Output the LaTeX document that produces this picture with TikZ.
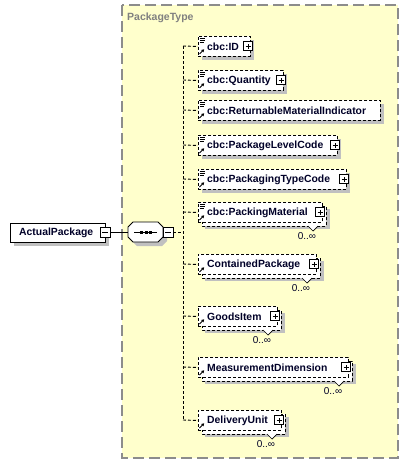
\documentclass[tikz,border=0pt]{standalone}
\usepackage{fontspec}
\setmainfont{Liberation Sans}
\usetikzlibrary{arrows.meta}
\definecolor{panel}{RGB}{255,255,204}
\definecolor{panelline}{RGB}{140,140,140}
\definecolor{shad}{RGB}{192,192,192}
\definecolor{ink}{RGB}{0,0,40}
\definecolor{titleg}{RGB}{128,128,128}
\tikzset{
  conn/.style={line width=0.9pt, dash pattern=on 3pt off 2pt},
  ebox/.style={draw, fill=white, line width=0.9pt, dash pattern=on 3pt off 2pt, rectangle, inner sep=0pt, anchor=north west, minimum height=20pt},
  backbox/.style={draw, fill=white, line width=0.9pt, dash pattern=on 3pt off 2pt},
  lbl/.style={font=\fontsize{10.4}{12}\selectfont\bfseries, text=ink, anchor=west, inner sep=0pt},
  mult/.style={font=\fontsize{10}{12}\selectfont, text=ink, inner sep=0pt},
  btn/.style={draw, fill=white, line width=0.7pt, minimum size=9pt, inner sep=0pt},
  icon/.style={line width=0.6pt},
}
\newcommand\plusbtn[3]{% name, x, y
  \node[btn] (#1) at (#2,#3) {};
  \draw[line width=0.7pt] ([xshift=-2.5pt]#1.center) -- ([xshift=2.5pt]#1.center)
    ([yshift=-2.5pt]#1.center) -- ([yshift=2.5pt]#1.center);}
% #1 name, #2 top, #3 right, #4 text, #5 cbc icon, #6 plus, #7 multi
\newcommand\xelem[7]{%
  \ifnum#7=1
    \fill[shad] (205,{#2+7}) rectangle ({#3+8},{#2+27});
    \draw[backbox] (202,{#2+4}) rectangle ({#3+4},{#2+24});
  \else
    \fill[shad] (202,{#2+4}) rectangle ({#3+4},{#2+24});
  \fi
  \node[ebox, minimum width={(#3-198)*1pt}] (#1) at (198,#2) {};
  \coordinate (#1-j) at (183,{#2+10});
  \draw[conn] (#1-j) -- (#1.west);
  \node[lbl] (#1-t) at (207,{#2+10.5}) {#4};
  \ifnum#5=1
    \draw[icon] (199.5,{#2+2.5}) -- (204.5,{#2+2.5})
      (199.5,{#2+4.5}) -- (204.5,{#2+4.5})
      (199.5,{#2+6.5}) -- (203.5,{#2+6.5});
  \fi
  \draw[line width=0.9pt, -{Triangle[length=2.6pt,width=3pt]}] (199.5,{#2+18}) -- (204.2,{#2+13.3});
  \ifnum#6=1
    \plusbtn{#1-p}{{#3-2}}{{#2+10}}
  \fi
  \ifnum#7=1
    \draw[line width=0.7pt, fill=white] ({#3-14},{#2+24}) -- ({#3-9},{#2+29}) -- ({#3-4},{#2+24});
    \node[mult] (#1-m) at ({#3-15},{#2+34}) {0..∞};
  \fi
}
\begin{document}
\begin{tikzpicture}[x=1pt,y=-1pt]
\useasboundingbox (0,0) rectangle (408,466);
% panel
\draw[panelline, fill=panel, line width=1.2pt, dash pattern=on 11pt off 5pt] (122,5) rectangle (398,458);
\node[font=\fontsize{10.5}{12}\selectfont\bfseries, text=titleg, anchor=west, inner sep=0pt] (ptype) at (127,18) {PackageType};
% root element
\fill[shad] (14,227) rectangle (109,246);
\node[draw, fill=white, line width=0.9pt, inner sep=0pt, anchor=north west, minimum width=95pt, minimum height=19pt] (root) at (10,223) {};
\node[lbl] (root-t) at (19,233) {ActualPackage};
\node[btn, minimum size=10pt] (rootm) at (105,232) {};
\draw[line width=0.7pt] ([xshift=-3pt]rootm.center) -- ([xshift=3pt]rootm.center);
% sequence
\fill[shad] (137,226) -- (162,226) -- (167,231) -- (167,241) -- (162,246) -- (137,246) -- (132,241) -- (132,231) -- cycle;
\node[inner sep=0pt, minimum width=35pt, minimum height=20pt] (seq) at (145.5,232) {};
\draw[fill=white, line width=0.9pt] (133,222) -- (158,222) -- (163,227) -- (163,237) -- (158,242) -- (133,242) -- (128,237) -- (128,227) -- cycle;
\draw[line width=0.9pt] (134,232) -- (157,232);
\foreach \dx in {140,144.5,149} \fill (\dx,230.5) rectangle ({\dx+3},233.5);
\node[btn, minimum size=10pt] (seqm) at (168,232) {};
\draw[line width=0.7pt] ([xshift=-3pt]seqm.center) -- ([xshift=3pt]seqm.center);
\draw[line width=0.9pt] (rootm.east) -- (seq.west);
\coordinate (seqj) at (183,232);
\draw[conn] (seqm.east) -- (seqj);
% elements
\xelem{id}{36}{250}{cbc:ID}{1}{1}{0}
\xelem{qty}{70}{283}{cbc:Quantity}{1}{1}{0}
\xelem{rmi}{100}{380}{cbc:ReturnableMaterialIndicator}{1}{0}{0}
\xelem{plc}{135}{337}{cbc:PackageLevelCode}{1}{1}{0}
\xelem{ptc}{169}{346}{cbc:PackagingTypeCode}{1}{1}{0}
\xelem{pm}{202}{322}{cbc:PackingMaterial}{1}{1}{1}
\xelem{cp}{254}{316}{ContainedPackage}{0}{1}{1}
\xelem{gi}{306}{277}{GoodsItem}{0}{1}{1}
\xelem{md}{357}{348}{MeasurementDimension}{0}{1}{1}
\xelem{du}{410}{281}{DeliveryUnit}{0}{1}{1}
\draw[conn] (id-j) -- (du-j);
\end{tikzpicture}
\end{document}
